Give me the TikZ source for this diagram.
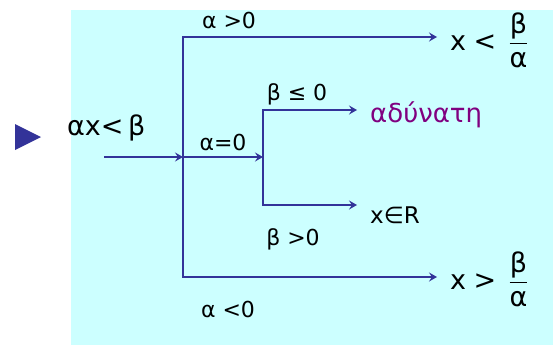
\documentclass[tikz,border=0pt]{standalone}
\usepackage{amsmath}
\usepackage{fontspec}
\setmainfont{DejaVu Sans}
\usetikzlibrary{arrows.meta,positioning,calc}
\definecolor{panelcyan}{HTML}{CCFFFF}
\definecolor{linkblue}{HTML}{333399}
\definecolor{nosol}{HTML}{800080}
\tikzset{
  branch/.style={draw=linkblue,line width=2.3pt},
  flow/.style={branch,-{Stealth[length=8pt,width=9pt,inset=3pt]},shorten >=13pt},
  cond/.style={font=\fontsize{22}{25}\selectfont,inner sep=0pt,anchor=base},
  result/.style={font=\fontsize{27}{30}\selectfont,inner sep=0pt,anchor=base west}
}

\begin{document}
\begin{tikzpicture}[x=1pt,y=-1pt]
  \useasboundingbox (0,0) rectangle (553,345);
  \fill[panelcyan] (71,10) rectangle (553,345);
  \fill[linkblue] (15,124) -- (41,137) -- (15,150) -- cycle;
  % junctions
  \coordinate (in) at (104,157);
  \coordinate (fork) at (183,157);
  \coordinate (up) at (183,37);
  \coordinate (down) at (183,277);
  \coordinate (zero) at (263,157);
  \coordinate (zup) at (263,110);
  \coordinate (zdown) at (263,205);
  % results
  \node[result] (ineq) at (67,135) {αx<\,β};
  \node[result] (lessres) at (450,50) {x\;<\;\,$\dfrac{\mbox{β}}{\mbox{α}}$};
  \node[result] (moreres) at (450,289) {x\;>\;\,$\dfrac{\mbox{β}}{\mbox{α}}$};
  \node[result,text=nosol,font=\fontsize{26}{30}\selectfont] (nosolres) at (370,122) {αδύνατη};
  \node[result,font=\fontsize{23}{26}\selectfont] (allres) at (370,223) {x∈R};
  % conditions
  \node[cond] (apos) at (229,29) {α >0};
  \node[cond] (azero) at (223,150) {α=0};
  \node[cond] (aneg) at (228,317) {α <0};
  \node[cond] (bneg) at (297,100) {β ≤ 0};
  \node[cond] (bpos) at (293,245) {β >0};
  % branches
  \draw[flow,shorten >=0pt] (in) -- (fork);
  \draw[flow] (fork) -- (up) -- (up -| lessres.west);
  \draw[flow] (fork) -- (down) -- (down -| moreres.west);
  \draw[flow,shorten >=0pt] (fork) -- (zero);
  \draw[flow] (zero) -- (zup) -- (zup -| nosolres.west);
  \draw[flow] (zero) -- (zdown) -- (zdown -| allres.west);
\end{tikzpicture}
\end{document}
